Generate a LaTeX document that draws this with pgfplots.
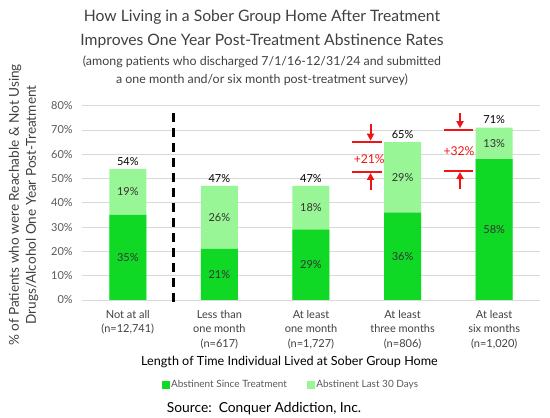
\documentclass[border=0pt]{standalone}
\usepackage{fontspec}
\setmainfont{Lato}
\usepackage{pgfplots}
\pgfplotsset{compat=1.18}
\usepackage{pgfplotstable}
\usetikzlibrary{arrows.meta}

\definecolor{darkg}{RGB}{16,217,38}
\definecolor{lightg}{RGB}{153,246,150}
\definecolor{gridc}{RGB}{217,217,217}
\definecolor{ttl}{RGB}{64,64,64}
\definecolor{tickc}{RGB}{89,89,89}
\definecolor{lblc}{RGB}{51,51,51}
\definecolor{annot}{RGB}{240,20,20}

% category, abstinent since treatment, abstinent last 30 days, total
\pgfplotstableread{
x dark light total
0 35 19 54
1 21 26 47
2 29 18 47
3 36 29 65
4 58 13 71
}\soberdata

\begin{document}
\begin{tikzpicture}
\path[use as bounding box] (0pt,0pt) rectangle (550pt,418pt);
\begin{axis}[
  at={(82pt,118pt)}, anchor=south west,
  scale only axis, width=458pt, height=194.3pt,
  xmin=-0.5, xmax=4.5, ymin=0, ymax=80,
  ytick={0,10,...,80},
  yticklabel={\pgfmathprintnumber{\tick}\%},
  /pgf/number format/assume math mode=true,
  xtick={0,1,2,3,4},
  xticklabels={{Not at all\\(n=12,741)},{Less than\\one month\\(n=617)},{At least\\one month\\(n=1,727)},{At least\\three months\\(n=806)},{At least\\six months\\(n=1,020)}},
  xticklabel style={align=center, anchor=north, inner sep=0pt, yshift=-10pt, text=ttl, font=\fontsize{11}{14.5}\selectfont},
  yticklabel style={anchor=east, inner sep=0pt, xshift=-9pt, text=tickc, font=\fontsize{11}{13}\selectfont},
  axis line style={draw=none},
  major tick length=0pt,
  ymajorgrids, grid style={gridc, line width=0.8pt},
  legend columns=2,
  legend style={at={(0.456,-0.436)}, anchor=center, draw=none, fill=none,
    font=\fontsize{10}{12}\selectfont, text=tickc,
    /tikz/every even column/.append style={column sep=18pt}},
  clip=false,
]
% bars: full height in light green, then the part abstinent since treatment over it
\addplot[ybar, bar width=37pt, bar shift=0pt, fill=lightg, draw=none, forget plot,
  nodes near coords={\pgfmathprintnumber{\pgfplotspointmeta}\%},
  every node near coord/.append style={text=black, font=\fontsize{11}{13}\selectfont}]
  table[x=x, y=total] {\soberdata};
\addplot[ybar, bar width=37pt, bar shift=0pt, fill=darkg, draw=none, forget plot]
  table[x=x, y=dark] {\soberdata};
% segment labels
\addplot[draw=none, mark=none, forget plot, point meta=explicit,
  nodes near coords={\pgfmathprintnumber{\pgfplotspointmeta}\%},
  every node near coord/.append style={anchor=center, text=lblc, font=\fontsize{11}{13}\selectfont}]
  table[x=x, y expr=\thisrow{dark}/2, meta=dark] {\soberdata};
\addplot[draw=none, mark=none, forget plot, point meta=explicit,
  nodes near coords={\pgfmathprintnumber{\pgfplotspointmeta}\%},
  every node near coord/.append style={anchor=center, text=lblc, font=\fontsize{11}{13}\selectfont}]
  table[x=x, y expr=\thisrow{dark}+\thisrow{light}/2, meta=light] {\soberdata};
% separator
\addplot[black, line width=2.3pt, dash pattern=on 9pt off 6pt, forget plot]
  coordinates {(0.5,-0.8) (0.5,79.2)};
% red gap markers
\draw[annot, line width=2pt] (axis cs:2.449,65) -- (axis cs:2.775,65);
\draw[annot, line width=2pt] (axis cs:2.449,52.9) -- (axis cs:2.775,52.9);
\draw[annot, line width=2pt, -{Triangle[length=7pt,width=7pt]}] (axis cs:2.65,72.5) -- (axis cs:2.65,65.6);
\draw[annot, line width=2pt, -{Triangle[length=7pt,width=7pt]}] (axis cs:2.65,45.1) -- (axis cs:2.65,52.3);
\node[annot, font=\fontsize{12.2}{15}\selectfont] at (axis cs:2.636,57.8) {+21\%};
\draw[annot, line width=2pt] (axis cs:3.45,70.15) -- (axis cs:3.77,70.15);
\draw[annot, line width=2pt] (axis cs:3.45,53.3) -- (axis cs:3.77,53.3);
\draw[annot, line width=2pt, -{Triangle[length=7pt,width=7pt]}] (axis cs:3.627,76.8) -- (axis cs:3.627,70.75);
\draw[annot, line width=2pt, -{Triangle[length=7pt,width=7pt]}] (axis cs:3.627,45.8) -- (axis cs:3.627,52.7);
\node[annot, font=\fontsize{12.2}{15}\selectfont] at (axis cs:3.616,61.1) {+32\%};
\addlegendimage{legend image code/.code={\fill[darkg] (0pt,-3.5pt) rectangle (7pt,3.5pt);}}
\addlegendentry{Abstinent Since Treatment}
\addlegendimage{legend image code/.code={\fill[lightg] (0pt,-3.5pt) rectangle (7pt,3.5pt);}}
\addlegendentry{Abstinent Last 30 Days}
\end{axis}
% titles and labels
\node[text=ttl, font=\fontsize{15.7}{19}\selectfont] at (262pt,401pt) {How Living in a Sober Group Home After Treatment};
\node[text=ttl, font=\fontsize{15.7}{19}\selectfont] at (262pt,377pt) {Improves One Year Post-Treatment Abstinence Rates};
\node[text=ttl, font=\fontsize{12.4}{15}\selectfont] at (262pt,356pt) {(among patients who discharged 7/1/16-12/31/24 and submitted};
\node[text=ttl, font=\fontsize{12.4}{15}\selectfont] at (262pt,338pt) {a one month and/or six month post-treatment survey)};
\node[text=ttl, rotate=90, align=center, font=\fontsize{13.6}{17}\selectfont] at (23.5pt,213pt) {\% of Patients who were Reachable \& Not Using\\Drugs/Alcohol One Year Post-Treatment};
\node[text=black, font=\fontsize{12.6}{15}\selectfont] at (289.5pt,56pt) {Length of Time Individual Lived at Sober Group Home};
\node[text=black, font=\fontsize{13.8}{16}\selectfont] at (264pt,9pt) {Source:\ \ Conquer Addiction, Inc.};
\end{tikzpicture}
\end{document}
